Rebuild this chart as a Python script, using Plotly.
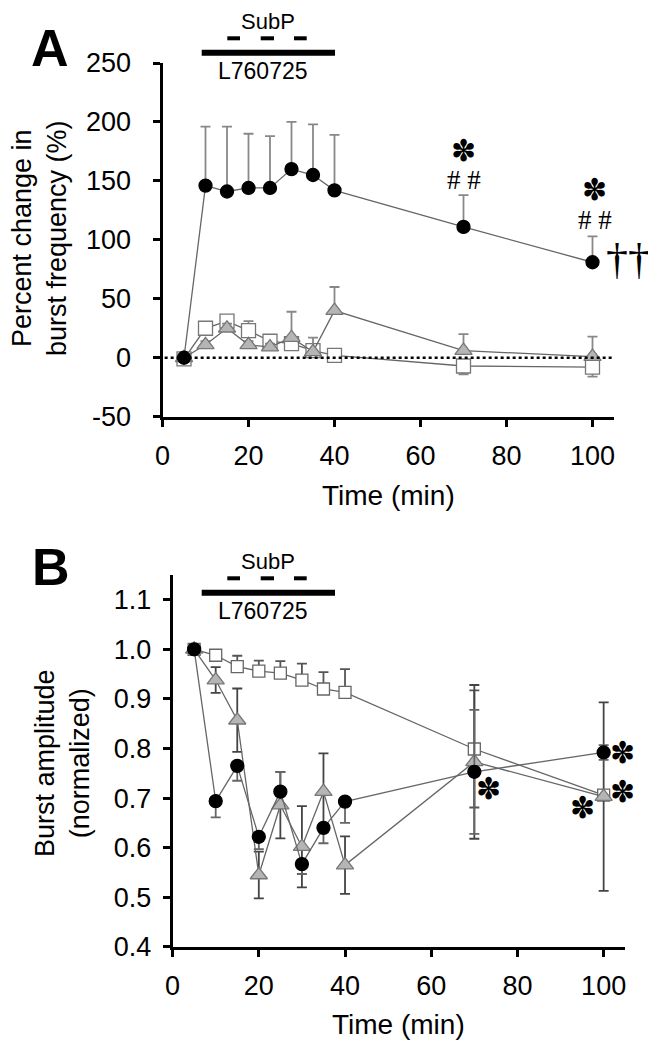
import plotly.graph_objects as go

# ---------------- data ----------------
time_min = [5, 10, 15, 20, 25, 30, 35, 40, 70, 100]

# Panel A: percent change in burst frequency (%)
freq_subp = [0, 146, 141, 144, 144, 160, 155, 142, 111, 81]
freq_subp_err = [0, 50, 55, 46, 44, 40, 43, 47, 27, 22]
freq_ctrl = [-1, 25, 31, 23, 14, 12, 6, 2, -7, -8]
freq_ctrl_err_up = [0, 3, 3, 8, 3, 4, 3, 2, 0, 0]
freq_ctrl_err_dn = [0, 0, 0, 0, 0, 0, 0, 0, 7, 8]
freq_l76 = [0, 11, 25, 11, 9, 17, 5, 40, 6, 1]
freq_l76_err = [0, 3, 4, 3, 3, 22, 12, 20, 14, 17]

# Panel B: burst amplitude (normalized)
amp_subp = [1.0, 0.694, 0.765, 0.622, 0.713, 0.567, 0.640, 0.693, 0.753, 0.792]
amp_subp_err_up = [0, 0, 0, 0, 0.04, 0, 0, 0, 0.125, 0.015]
amp_subp_err_dn = [0, 0.033, 0.03, 0.025, 0, 0.02, 0.031, 0.043, 0.125, 0.015]
amp_ctrl = [1.0, 0.988, 0.965, 0.956, 0.952, 0.938, 0.920, 0.913, 0.799, 0.706]
amp_ctrl_err_up = [0, 0.005, 0.022, 0.021, 0.024, 0.033, 0.034, 0.047, 0.118, 0.01]
amp_ctrl_err_dn = [0, 0, 0, 0, 0, 0, 0, 0, 0.118, 0.01]
amp_l76 = [1.0, 0.938, 0.857, 0.545, 0.686, 0.602, 0.713, 0.565, 0.773, 0.703]
amp_l76_err = [0, 0.026, 0.064, 0.047, 0.067, 0.082, 0.077, 0.058, 0.155, 0.19]

freq_ticks = [-50, 0, 50, 100, 150, 200, 250]
freq_ticklabels = ["-50", "0", "50", "100", "150", "200", "250"]
amp_ticks = [0.4, 0.5, 0.6, 0.7, 0.8, 0.9, 1.0, 1.1]
amp_ticklabels = ["0.4", "0.5", "0.6", "0.7", "0.8", "0.9", "1.0", "1.1"]
time_ticks = [0, 20, 40, 60, 80, 100]

# ---------------- figure ----------------
W, H = 656, 1050
OFF = 8  # page body margin
SANS = "Liberation Sans, Arial, sans-serif"
SERIF = "Liberation Serif, Times New Roman, serif"
LINE = "#666666"


def px(x):
    return (x - OFF) / W


def py(y):
    return 1 - (y - OFF) / H


fig = go.Figure()


def add_series(x, y, up, dn, xa, ya, symbol, size, fill, edge, ecol):
    fig.add_trace(go.Scatter(
        x=x, y=y, xaxis=xa, yaxis=ya, mode="lines+markers",
        line=dict(color=LINE, width=1.3),
        marker=dict(symbol=symbol, size=size, color=fill, line=dict(color=edge, width=1.3)),
        error_y=dict(type="data", symmetric=False, array=up, arrayminus=dn,
                     color=ecol, thickness=1.8, width=5),
        cliponaxis=False, showlegend=False, hoverinfo="x+y"))


# Panel A
add_series(time_min, freq_ctrl, freq_ctrl_err_up, freq_ctrl_err_dn, "x", "y",
           "square", 14, "white", "#777777", "#888888")
add_series(time_min, freq_l76, freq_l76_err, [0] * len(time_min), "x", "y",
           "triangle-up", 15, "#b5b5b5", "#777777", "#888888")
add_series(time_min, freq_subp, freq_subp_err, [0] * len(time_min), "x", "y",
           "circle", 13, "black", "black", "#888888")

# Panel B
add_series(time_min, amp_ctrl, amp_ctrl_err_up, amp_ctrl_err_dn, "x2", "y2",
           "square", 12, "white", "#666666", "#555555")
add_series(time_min, amp_l76, amp_l76_err, amp_l76_err, "x2", "y2",
           "triangle-up", 15, "#b5b5b5", "#777777", "#444444")
add_series(time_min, amp_subp, amp_subp_err_up, amp_subp_err_dn, "x2", "y2",
           "circle", 13, "black", "black", "#666666")

axis_common = dict(showgrid=False, zeroline=False, showline=True, linecolor="black",
                   linewidth=3, ticks="outside", ticklen=7, tickwidth=2.5,
                   tickcolor="black", automargin=False,
                   tickfont=dict(family=SANS, size=27, color="black"))

fig.update_layout(
    width=W, height=H, template="none",
    margin=dict(l=0, r=0, t=0, b=0),
    paper_bgcolor="white", plot_bgcolor="white", showlegend=False,
    xaxis=dict(domain=[px(162.5), px(614)], range=[0, 105], tickvals=time_ticks,
               anchor="y", ticklabelstandoff=6, **axis_common),
    yaxis=dict(domain=[py(416.7), py(63)], range=[-50, 250], tickvals=freq_ticks,
               ticktext=freq_ticklabels, anchor="x", ticklabelstandoff=16, **axis_common),
    xaxis2=dict(domain=[px(172.6), px(625.2)], range=[0, 105], tickvals=time_ticks,
                anchor="y2", ticklabelstandoff=6, **axis_common),
    yaxis2=dict(domain=[py(946.9), py(574.9)], range=[0.4, 1.15], tickvals=amp_ticks,
                ticktext=amp_ticklabels, anchor="x2", ticklabelstandoff=6, **axis_common),
)

# dotted zero line in panel A
fig.add_shape(type="line", xref="x", yref="y", x0=0.5, x1=105, y0=0, y1=0,
              line=dict(color="black", width=2.5, dash="dot"))

ann = []


def text(x, y, t, size, family=SANS, color="black", angle=0, xref="paper", yref="paper"):
    ann.append(dict(x=x, y=y, xref=xref, yref=yref, text=t, showarrow=False,
                    textangle=angle, xanchor="center", yanchor="middle",
                    borderpad=0,
                    font=dict(family=family, size=size, color=color)))


# treatment bars (pixel positions) for both panels
for dy in (0, 540):
    fig.add_shape(type="line", xref="paper", yref="paper",
                  x0=px(201.7), x1=px(335), y0=py(52.7 + dy), y1=py(52.7 + dy),
                  line=dict(color="black", width=6))
    for a, b in ((227.3, 240), (260.7, 274), (294, 306.7)):
        fig.add_shape(type="line", xref="paper", yref="paper",
                      x0=px(a), x1=px(b), y0=py(38.3 + dy), y1=py(38.3 + dy),
                      line=dict(color="black", width=4))
    text(px(268), py(21 + dy), "SubP", 22)
    text(px(263), py(71 + dy), "L760725", 23)

# panel letters
text(px(50), py(48), "<b>A</b>", 52)
text(px(51), py(567), "<b>B</b>", 52)

# axis titles
text(px(39), py(238), "Percent change in<br>burst frequency (%)", 27, angle=-90)
text(px(388), py(495), "Time (min)", 28)
text(px(62), py(763), "Burst amplitude<br>(normalized)", 27, angle=-90)
text(px(398), py(1024), "Time (min)", 28)

# significance marks panel A
STAR = "\u273D"
text(70, 176, STAR, 30, family="DejaVu Sans", xref="x", yref="y")
text(70, 151, "# #", 27, family=SERIF, xref="x", yref="y")
text(100.5, 143, STAR, 30, family="DejaVu Sans", xref="x", yref="y")
text(100.5, 117, "# #", 27, family=SERIF, xref="x", yref="y")
text(px(628), py(259), "\u2020\u2020", 44, family=SERIF)

# significance marks panel B
text(73.3, 0.72, STAR, 30, family="DejaVu Sans", xref="x2", yref="y2")
text(104.3, 0.792, STAR, 30, family="DejaVu Sans", xref="x2", yref="y2")
text(104.3, 0.714, STAR, 30, family="DejaVu Sans", xref="x2", yref="y2")
text(95.0, 0.682, STAR, 30, family="DejaVu Sans", xref="x2", yref="y2")

fig.update_layout(annotations=ann)
fig.write_html("out.html")
